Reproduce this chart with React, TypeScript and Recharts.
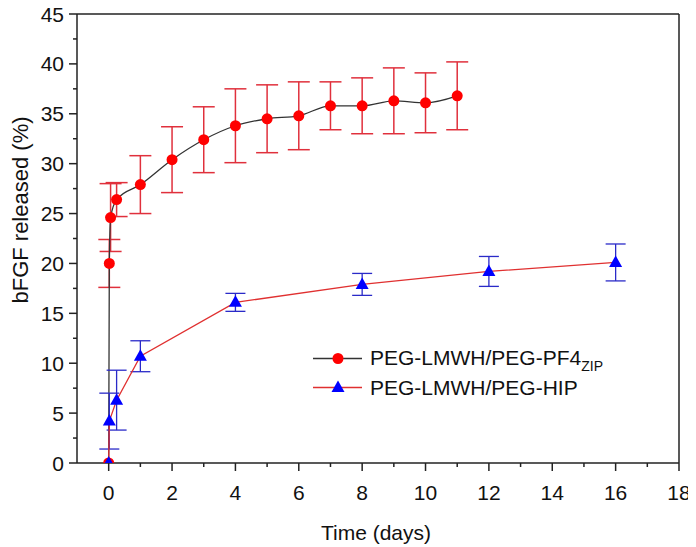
import React from 'react';
import { LineChart, Line, XAxis, YAxis, ErrorBar, ReferenceLine, Legend, Label } from 'recharts';

const zipTimes = [0, 0.02, 0.06, 0.25, 1, 2, 3, 4, 5, 6, 7, 8, 9, 10, 11];
const zipValues = [0, 20.0, 24.6, 26.4, 27.9, 30.4, 32.4, 33.8, 34.5, 34.8, 35.8, 35.8, 36.3, 36.1, 36.8];
const zipErrors = [0, 2.4, 3.4, 1.7, 2.9, 3.3, 3.3, 3.7, 3.4, 3.4, 2.4, 2.8, 3.3, 3.0, 3.4];

const hipTimes = [0, 0.02, 0.25, 1, 4, 8, 12, 16];
const hipValues = [0, 4.2, 6.3, 10.7, 16.1, 17.9, 19.2, 20.1];
const hipErrors = [0, 2.8, 3.0, 1.55, 0.9, 1.1, 1.5, 1.85];

const xTicks = [0, 1, 2, 3, 4, 5, 6, 7, 8, 9, 10, 11, 12, 13, 14, 15, 16, 17, 18];
const yTicks = [0, 2.5, 5, 7.5, 10, 12.5, 15, 17.5, 20, 22.5, 25, 27.5, 30, 32.5, 35, 37.5, 40, 42.5, 45];

const seriesNames = ['PEG-LMWH/PEG-PF4', 'PEG-LMWH/PEG-HIP'];
const zipSub = 'ZIP';
const xTitle = 'Time (days)';
const yTitle = 'bFGF released (%)';

const zipData = zipTimes.map((t, i) => ({ t, v: zipValues[i], e: zipErrors[i] }));
const hipData = hipTimes.map((t, i) => ({ t, v: hipValues[i], e: hipErrors[i] }));

const FONT = '"Liberation Sans", Arial, Helvetica, sans-serif';
const AXIS = '#222';

const XTick = (props: any) => {
  const { x, y, payload } = props;
  const v = payload.value;
  const major = v % 2 === 0;
  return (
    <g>
      <line x1={x} x2={x} y1={y} y2={y + (major ? 8 : 4)} stroke={AXIS} strokeWidth={1.5} />
      {major && (
        <text x={x} y={y + 37} textAnchor="middle" fontSize={21} fontFamily={FONT} fill="#111">
          {v}
        </text>
      )}
    </g>
  );
};

const YTick = (props: any) => {
  const { x, y, payload } = props;
  const v = payload.value;
  const major = v % 5 === 0;
  return (
    <g>
      <line x1={x} x2={x - (major ? 8 : 4)} y1={y} y2={y} stroke={AXIS} strokeWidth={1.5} />
      {major && (
        <text x={x - 13} y={y} dy="0.36em" textAnchor="end" fontSize={21} fontFamily={FONT} fill="#111">
          {v}
        </text>
      )}
    </g>
  );
};

const Triangle = (props: any) => {
  const { cx, cy, index } = props;
  if (cx == null || cy == null) return <g key={index} />;
  return (
    <path
      key={index}
      d={`M${cx},${cy - 7}L${cx + 6.5},${cy + 4.5}L${cx - 6.5},${cy + 4.5}Z`}
      fill="#0000ff"
    />
  );
};

const LegendContent = () => (
  <div style={{ fontFamily: FONT, fontSize: 21, color: '#111', lineHeight: '29px' }}>
    <div style={{ display: 'flex', alignItems: 'center', height: 29 }}>
      <svg width={57} height={29}>
        <line x1={0} x2={49} y1={14.5} y2={14.5} stroke="#333" strokeWidth={1.3} />
        <circle cx={25} cy={14.5} r={5.5} fill="#ff0000" />
      </svg>
      <span style={{ whiteSpace: 'nowrap' }}>
        {seriesNames[0]}
        <span style={{ fontSize: 14, position: 'relative', top: 6 }}>{zipSub}</span>
      </span>
    </div>
    <div style={{ display: 'flex', alignItems: 'center', height: 29 }}>
      <svg width={57} height={29}>
        <line x1={0} x2={49} y1={14.5} y2={14.5} stroke="#e03030" strokeWidth={1.3} />
        <path d="M25,7.5L31.5,19L18.5,19Z" fill="#0000ff" />
      </svg>
      <span style={{ whiteSpace: 'nowrap' }}>{seriesNames[1]}</span>
    </div>
  </div>
);

export default function App() {
  return (
    <div style={{ width: 696, height: 547, position: 'relative', marginLeft: -8, marginTop: -8 }}>
      <LineChart width={696} height={547} margin={{ top: 14, right: 17, left: 0, bottom: 24 }}>
        <XAxis
          dataKey="t"
          type="number"
          domain={[-1, 18]}
          ticks={xTicks}
          interval={0}
          allowDataOverflow
          height={60}
          tickSize={0}
          tickMargin={0}
          tickLine={false}
          tick={<XTick />}
          axisLine={{ stroke: AXIS, strokeWidth: 1.5 }}
        >
          <Label
            content={(p: any) => (
              <text x={376} y={540} textAnchor="middle" fontSize={21} fontFamily={FONT} fill="#111">
                {xTitle}
              </text>
            )}
          />
        </XAxis>
        <YAxis
          type="number"
          domain={[0, 45]}
          ticks={yTicks}
          interval={0}
          allowDataOverflow
          width={77}
          tickSize={0}
          tickMargin={0}
          tickLine={false}
          tick={<YTick />}
          axisLine={{ stroke: AXIS, strokeWidth: 1.5 }}
        >
          <Label
            content={(p: any) => (
              <text
                x={20}
                y={210}
                transform="rotate(-90, 20, 210)"
                textAnchor="middle"
                dominantBaseline="central"
                fontSize={22}
                fontFamily={FONT}
                fill="#111"
              >
                {yTitle}
              </text>
            )}
          />
        </YAxis>
        <ReferenceLine y={45} stroke={AXIS} strokeWidth={1.5} />
        <ReferenceLine x={18} stroke={AXIS} strokeWidth={1.5} />
        <Line
          data={zipData}
          dataKey="v"
          type="monotone"
          stroke="#333"
          strokeWidth={1.3}
          dot={{ r: 5.5, fill: '#ff0000', stroke: 'none' }}
          activeDot={false}
          isAnimationActive={false}
          name={seriesNames[0]}
        >
          <ErrorBar dataKey="e" direction="y" width={11} stroke="#e0303c" strokeWidth={1.5} />
        </Line>
        <Line
          data={hipData}
          dataKey="v"
          type="linear"
          stroke="#e03030"
          strokeWidth={1.3}
          dot={<Triangle />}
          activeDot={false}
          isAnimationActive={false}
          name={seriesNames[1]}
        >
          <ErrorBar dataKey="e" direction="y" width={10} stroke="#2a2ac8" strokeWidth={1.3} />
        </Line>
        <Legend
          layout="horizontal"
          verticalAlign="middle"
          align="center"
          content={<LegendContent />}
          wrapperStyle={{ left: 313, top: 344, width: 330 }}
        />
      </LineChart>
    </div>
  );
}
